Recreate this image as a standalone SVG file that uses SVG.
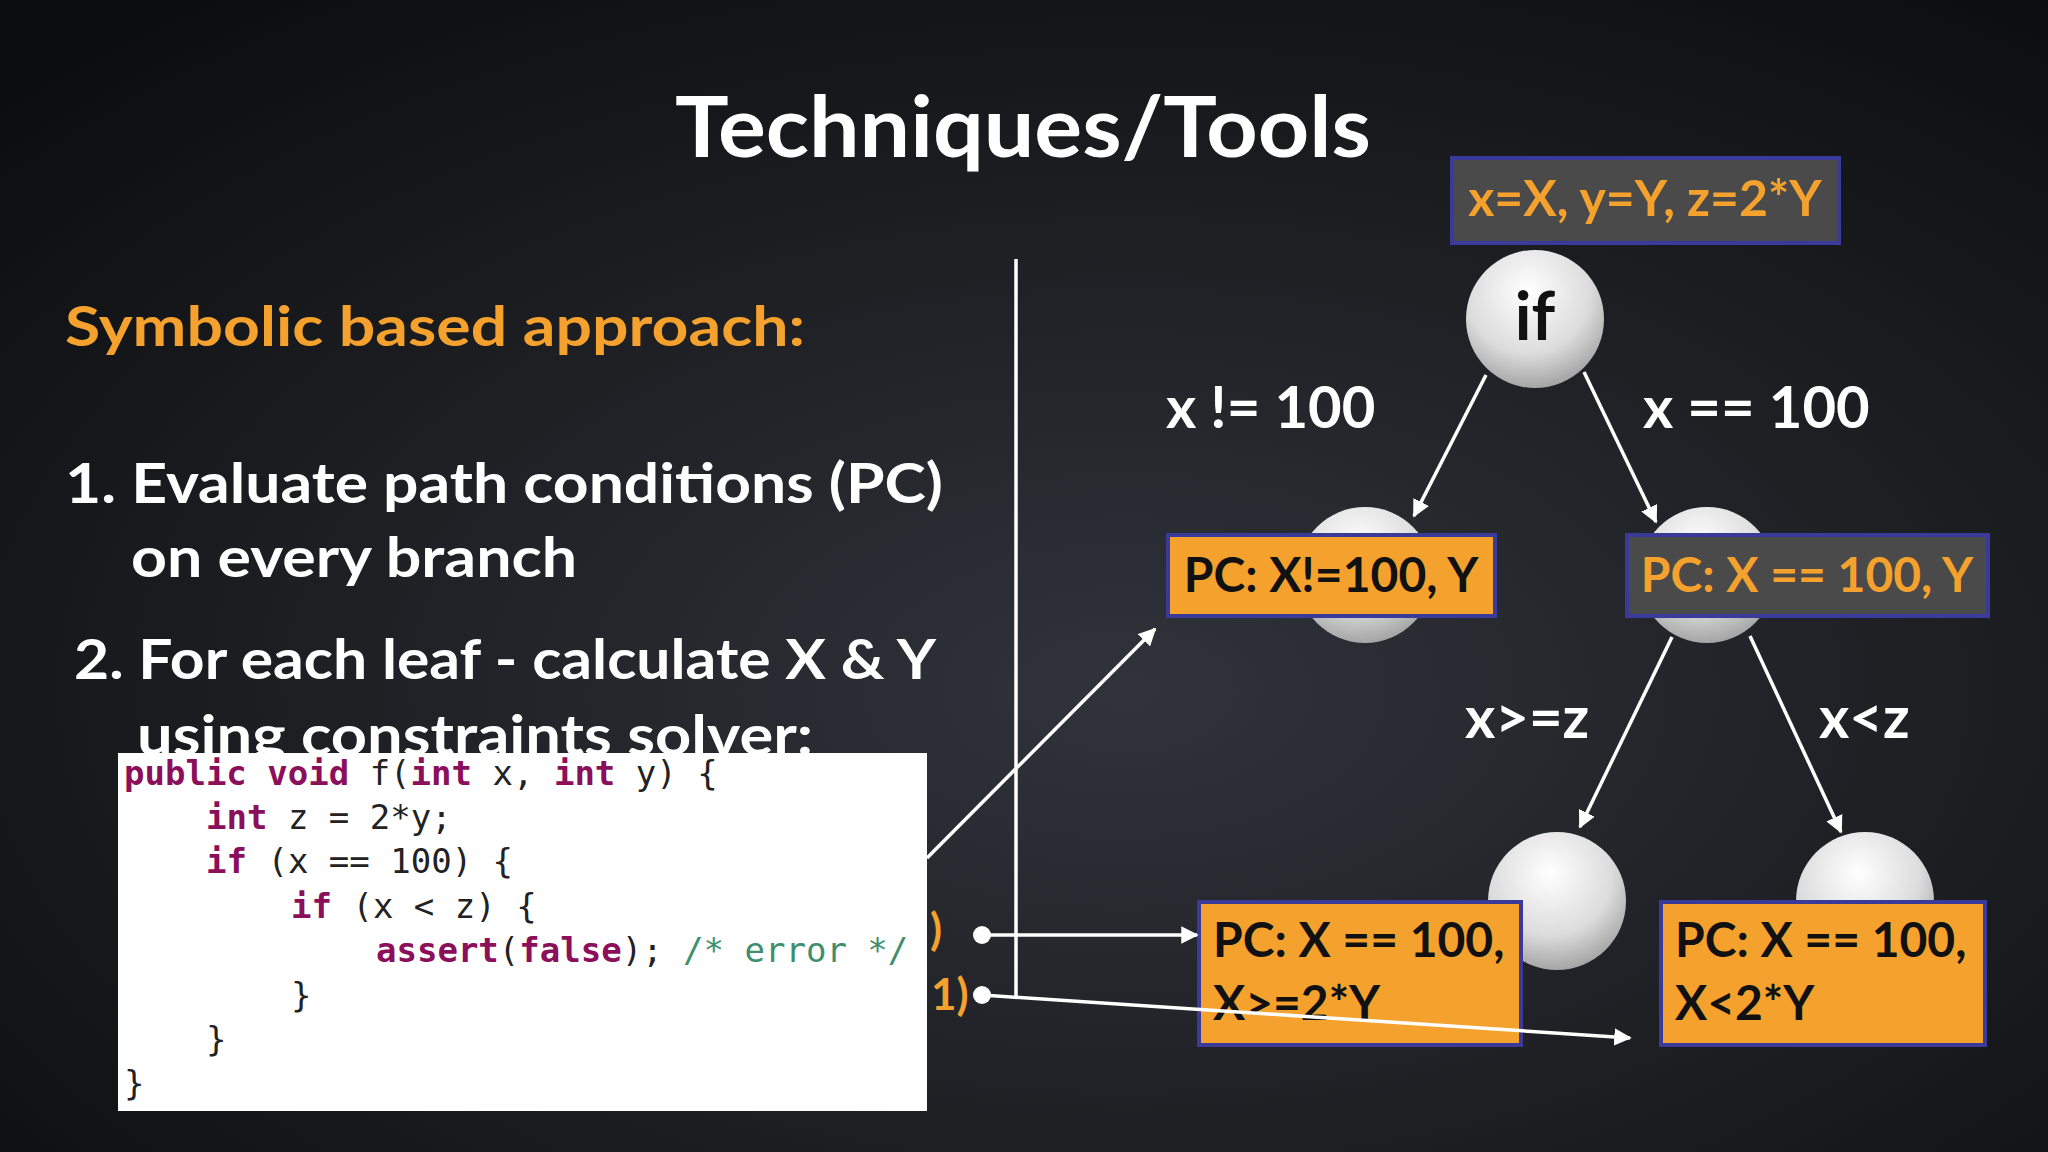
<svg xmlns="http://www.w3.org/2000/svg" width="2048" height="1152" viewBox="0 0 2048 1152">
<defs>
<radialGradient id="bg" cx="0.55" cy="0.6" r="0.75"><stop offset="0" stop-color="#30333a"/><stop offset="1" stop-color="#0c0d0f"/></radialGradient>
<radialGradient id="ball" cx="0.45" cy="0.3" r="0.75"><stop offset="0" stop-color="#ffffff"/><stop offset="0.6" stop-color="#dcdcdc"/><stop offset="1" stop-color="#9a9a9a"/></radialGradient>
<marker id="ah" viewBox="0 0 10 10" refX="9" refY="5" markerWidth="5" markerHeight="5" orient="auto" markerUnits="strokeWidth"><path d="M0,0 L10,5 L0,10 z" fill="#fff"/></marker>
<clipPath id="cut"><rect x="0" y="0" width="2048" height="753"/></clipPath>
<style>
.t{font-family:Lato,"Open Sans",sans-serif;font-weight:bold}
.w{fill:#fff}.o{fill:#f4a22d}.k{fill:#111}
.code{font-family:"DejaVu Sans Mono",monospace;font-size:34px;fill:#222}
.kw{fill:#8b0f5a;font-weight:bold}.cm{fill:#3f8f6f}
.ln{stroke:#fff;stroke-width:3.5;fill:none}
.ob{fill:#f4a22d;stroke:#3a3a9a;stroke-width:4}
.gb{fill:#4a4a4a;stroke:#3a3a9a;stroke-width:4}
</style>
</defs>
<rect width="2048" height="1152" fill="url(#bg)"/>
<text class="t w" x="1023" y="157" font-size="84" text-anchor="middle" textLength="696" lengthAdjust="spacingAndGlyphs">Techniques/Tools</text>
<text class="t o" x="65" y="346" font-size="56" textLength="740" lengthAdjust="spacingAndGlyphs">Symbolic  based approach:</text>
<text class="t w" x="65" y="503" font-size="56" textLength="878" lengthAdjust="spacingAndGlyphs">1. Evaluate path conditions (PC)</text>
<text class="t w" x="131" y="577" font-size="56" textLength="446" lengthAdjust="spacingAndGlyphs">on every branch</text>
<text class="t w" x="74" y="679" font-size="56" textLength="862" lengthAdjust="spacingAndGlyphs">2. For each leaf - calculate X &amp; Y</text>
<text class="t w" x="137" y="755" font-size="56" textLength="676" lengthAdjust="spacingAndGlyphs" clip-path="url(#cut)">using constraints solver:</text>
<g id="code">
<rect x="118" y="753" width="809" height="358" fill="#fff"/>
<text class="code" x="124" y="785"><tspan class="kw">public void</tspan> f(<tspan class="kw">int</tspan> x, <tspan class="kw">int</tspan> y) {</text>
<text class="code" x="206" y="829"><tspan class="kw">int</tspan> z = 2*y;</text>
<text class="code" x="206" y="873"><tspan class="kw">if</tspan> (x == 100) {</text>
<text class="code" x="291" y="918"><tspan class="kw">if</tspan> (x &lt; z) {</text>
<text class="code" x="376" y="962"><tspan class="kw">assert</tspan>(<tspan class="kw">false</tspan>); <tspan class="cm">/* error */</tspan></text>
<text class="code" x="291" y="1007">}</text>
<text class="code" x="206" y="1051">}</text>
<text class="code" x="124" y="1095">}</text>
</g>
<line class="ln" x1="1016" y1="259" x2="1016" y2="999"/>
<text class="t o" x="930" y="945" font-size="44">)</text>
<text class="t o" x="931" y="1010" font-size="44">1)</text>
<g id="top"><rect class="gb" x="1452" y="158" width="387" height="85"/><text class="t o" x="1645" y="216" font-size="50" text-anchor="middle">x=X, y=Y, z=2*Y</text></g>
<g id="n_if"><circle cx="1535" cy="319" r="69" fill="url(#ball)"/><text class="t k" x="1535" y="340" font-size="66" text-anchor="middle">if</text></g>
<g id="n_l"><circle cx="1365" cy="575" r="68" fill="url(#ball)"/><rect class="ob" x="1168" y="535" width="327" height="81"/><text class="t k" x="1331" y="592" font-size="48" text-anchor="middle">PC: X!=100, Y</text></g>
<g id="n_r"><circle cx="1707" cy="575" r="68" fill="url(#ball)"/><rect class="gb" x="1627" y="535" width="361" height="81"/><text class="t o" x="1807" y="592" font-size="48" text-anchor="middle">PC: X == 100, Y</text></g>
<g id="n_rl"><circle cx="1557" cy="901" r="69" fill="url(#ball)"/><rect class="ob" x="1199" y="902" width="322" height="143"/><text class="t k" x="1213" y="957" font-size="48">PC: X == 100,</text><text class="t k" x="1213" y="1020" font-size="48">X&gt;=2*Y</text></g>
<g id="n_rr"><circle cx="1865" cy="901" r="69" fill="url(#ball)"/><rect class="ob" x="1661" y="902" width="324" height="143"/><text class="t k" x="1675" y="957" font-size="48">PC: X == 100,</text><text class="t k" x="1675" y="1020" font-size="48">X&lt;2*Y</text></g>
<g id="labels" class="t w" font-size="58">
<text x="1166" y="428">x != 100</text><text x="1643" y="428">x == 100</text>
<text x="1465" y="738">x&gt;=z</text><text x="1819" y="738">x&lt;z</text>
</g>
<g id="connectors">
<path class="ln" d="M1486,375 L1414,516" marker-end="url(#ah)"/>
<path class="ln" d="M1584,372 L1656,522" marker-end="url(#ah)"/>
<path class="ln" d="M1672,637 L1580,827" marker-end="url(#ah)"/>
<path class="ln" d="M1750,636 L1841,832" marker-end="url(#ah)"/>
<path class="ln" d="M927,858 L1155,629" marker-end="url(#ah)"/>
<circle cx="982" cy="935" r="9" fill="#fff"/>
<path class="ln" d="M982,935 L1197,935" marker-end="url(#ah)"/>
<circle cx="982" cy="995" r="9" fill="#fff"/>
<path class="ln" d="M982,995 L1630,1038" marker-end="url(#ah)"/>
</g>
</svg>
